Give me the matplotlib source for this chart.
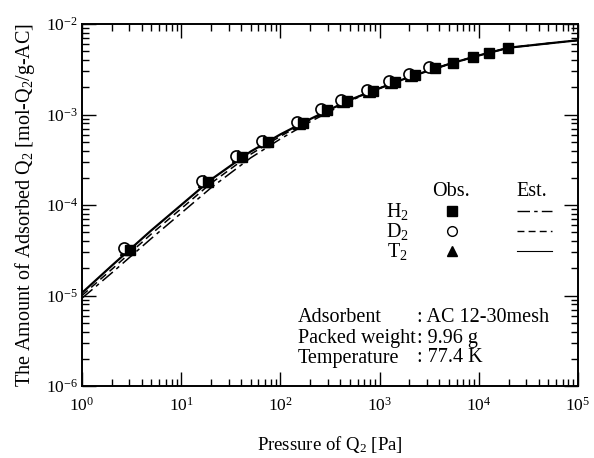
import numpy as np
import matplotlib
matplotlib.use("Agg")
import matplotlib.pyplot as plt
from matplotlib.lines import Line2D

plt.rcParams['font.family'] = ['Liberation Serif', 'DejaVu Serif']
plt.rcParams['mathtext.fontset'] = 'custom'
plt.rcParams['mathtext.rm'] = 'Liberation Serif'
plt.rcParams['mathtext.it'] = 'Liberation Serif:italic'
plt.rcParams['mathtext.default'] = 'regular'
plt.rcParams['axes.unicode_minus'] = False

# ---- observed data ----
h2_p = [3.05, 18.6, 41, 75, 169, 295, 469, 858, 1430, 2275, 3615, 5500, 8720, 12600, 19600]
h2_q = [3.2e-5, 1.80e-4, 3.4e-4, 5.0e-4, 8.05e-4, 1.12e-3, 1.41e-3, 1.82e-3, 2.29e-3,
        2.73e-3, 3.27e-3, 3.71e-3, 4.31e-3, 4.78e-3, 5.43e-3]
d2_p = [2.65, 16.2, 35.7, 65, 147, 257, 408, 747, 1245, 1980, 3150]
d2_q = [3.35e-5, 1.85e-4, 3.5e-4, 5.1e-4, 8.2e-4, 1.15e-3, 1.44e-3, 1.86e-3, 2.33e-3,
        2.78e-3, 3.33e-3]
t2_p = [2.75, 17.0, 37.5, 68.5, 155, 270, 428, 785, 1300, 2080]
t2_q = [3.3e-5, 1.82e-4, 3.45e-4, 5.05e-4, 8.1e-4, 1.13e-3, 1.42e-3, 1.84e-3, 2.31e-3, 2.75e-3]

# ---- estimated curves ----
est_p = [1, 2, 5, 10, 20, 50, 100, 200, 500, 1e3, 2e3, 5e3, 1e4, 2e4, 5e4, 1e5]
est_t2 = [1.07e-5, 2.14e-5, 5.25e-5, 1.0e-4, 1.91e-4, 3.89e-4, 6.03e-4, 8.91e-4, 1.45e-3,
          1.95e-3, 2.60e-3, 3.61e-3, 4.49e-3, 5.47e-3, 6.10e-3, 6.61e-3]
est_d2 = [1.0e-5, 1.95e-5, 4.79e-5, 9.12e-5, 1.74e-4, 3.63e-4, 5.75e-4, 8.71e-4, 1.45e-3,
          1.95e-3, 2.60e-3, 3.61e-3, 4.49e-3, 5.47e-3, 6.10e-3, 6.61e-3]
est_h2 = [9.33e-6, 1.78e-5, 4.27e-5, 8.13e-5, 1.55e-4, 3.31e-4, 5.37e-4, 8.32e-4, 1.41e-3,
          1.95e-3, 2.60e-3, 3.61e-3, 4.49e-3, 5.47e-3, 6.10e-3, 6.61e-3]

W, H = 594, 458
fig = plt.figure(figsize=(W / 100, H / 100), dpi=100)
L, R, T, B = 82, 578, 24, 386
ax = fig.add_axes([L / W, (H - B) / H, (R - L) / W, (B - T) / H])

dashdot = (0, (9, 3, 2.5, 3))
dashed = (0, (5, 3))

ax.plot(est_h2 and est_p, est_h2, color='black', lw=1.1, linestyle=dashdot)
ax.plot(est_p, est_d2, color='black', lw=1.1, linestyle=dashed)
ax.plot(est_p, est_t2, color='black', lw=1.6, linestyle='-')

ax.plot(t2_p, t2_q, linestyle='none', marker='^', ms=8, color='black')
ax.plot(d2_p, d2_q, linestyle='none', marker='o', ms=8, mfc='white', mec='black', mew=1.2)
ax.plot(h2_p, h2_q, linestyle='none', marker='s', ms=7.5, color='black')

ax.set_xscale('log')
ax.set_yscale('log')
ax.set_xlim(1, 1e5)
ax.set_ylim(1e-6, 1e-2)

for s in ax.spines.values():
    s.set_linewidth(1.4)
ax.tick_params(which='both', direction='in', top=True, right=True, width=1.0)
ax.tick_params(which='major', length=10, labelsize=12.5)
ax.tick_params(axis='x', which='major', pad=8)
ax.tick_params(axis='y', which='major', pad=3)
ax.tick_params(which='minor', length=5)
ax.xaxis.set_minor_locator(matplotlib.ticker.LogLocator(base=10, subs=np.arange(2, 10), numticks=20))
ax.yaxis.set_minor_locator(matplotlib.ticker.LogLocator(base=10, subs=np.arange(2, 10), numticks=20))
ax.xaxis.set_minor_formatter(matplotlib.ticker.NullFormatter())
ax.yaxis.set_minor_formatter(matplotlib.ticker.NullFormatter())

ax.set_xlabel('Pressure of Q$_2$ [Pa]', fontsize=13.5, labelpad=14)
ax.set_ylabel('The Amount of Adsorbed Q$_2$ [mol-Q$_2$/g-AC]', fontsize=14.5, labelpad=6)

def fx(x):
    return (x - L) / (R - L)

def fy(y):
    return (B - y) / (B - T)

fs = 14.5
tr = ax.transAxes
ax.text(fx(451), fy(192), 'Obs.', transform=tr, ha='center', va='center', fontsize=fs)
ax.text(fx(532), fy(192), 'Est.', transform=tr, ha='center', va='center', fontsize=fs)
rows = [('H$_2$', 's', dashdot, 211), ('D$_2$', 'o', dashed, 231), ('T$_2$', '^', '-', 251)]
for lab, mk, ls, y in rows:
    ax.text(fx(397), fy(y), lab, transform=tr, ha='center', va='center', fontsize=fs)
    if mk == 'o':
        ax.plot([fx(452)], [fy(y)], transform=tr, marker='o', ms=7, mfc='white', mec='black',
                mew=1.0, linestyle='none', clip_on=False)
    else:
        ax.plot([fx(452)], [fy(y)], transform=tr, marker=mk, ms=7.5 if mk == 's' else 7,
                color='black', linestyle='none', clip_on=False)
    ax.add_line(Line2D([fx(517), fx(552)], [fy(y), fy(y)], transform=tr, color='black',
                       lw=0.8 if ls == '-' else 1.0, linestyle=ls))

info = [('Adsorbent', ': AC 12-30mesh', 318), ('Packed weight', ': 9.96 g', 339),
        ('Temperature', ': 77.4 K', 358)]
for a, b, y in info:
    ax.text(fx(298), fy(y), a, transform=tr, ha='left', va='center', fontsize=fs)
    ax.text(fx(417), fy(y), b, transform=tr, ha='left', va='center', fontsize=fs)

fig.savefig('out.png', dpi=100)
